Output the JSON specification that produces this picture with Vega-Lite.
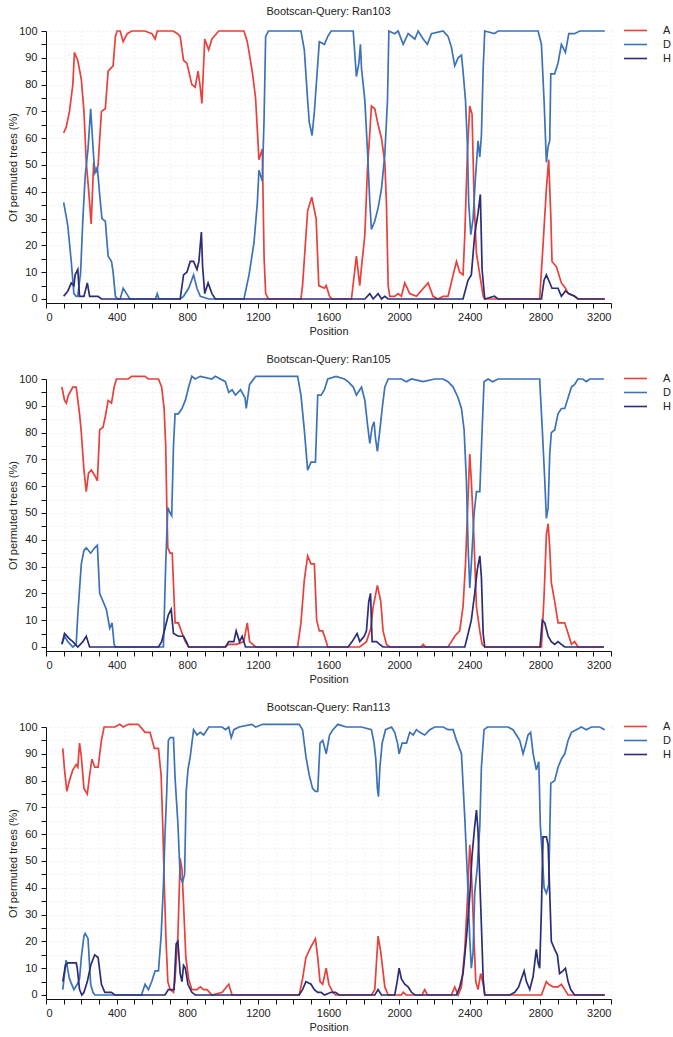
{
"$schema": "https://vega.github.io/schema/vega-lite/v6.json",
"padding": {"left": 7, "top": 6, "right": 0, "bottom": 0},
"spacing": 17,
"config": {
  "font": "Liberation Sans",
  "view": {"stroke": null},
  "axis": {"labelFont": "Liberation Sans", "labelFontSize": 11, "labelColor": "#222", "titleFont": "Liberation Sans", "titleFontSize": 11, "titleFontWeight": "normal", "titleColor": "#222", "domainColor": "#111", "tickColor": "#111", "tickSize": 5, "gridColor": "#e6e6e6", "gridDash": [1, 3], "labelOverlap": false},
  "title": {"font": "Liberation Sans", "fontSize": 11, "fontWeight": "normal", "color": "#222", "offset": 8},
  "legend": {"orient": "none", "legendX": 584, "legendY": -6, "padding": 0, "symbolType": "M-4.2,0H4.2", "symbolSize": 30, "symbolStrokeWidth": 1.6, "labelFont": "Liberation Sans", "labelFontSize": 11, "labelColor": "#222", "labelOffset": 22, "rowPadding": 2, "title": null}
},
"datasets": {
"r103": [
{"s":"A","x":100,"y":62},{"s":"A","x":114,"y":64},{"s":"A","x":133,"y":70},{"s":"A","x":152,"y":80},{"s":"A","x":161,"y":92},{"s":"A","x":180,"y":89},{"s":"A","x":200,"y":82},{"s":"A","x":215,"y":70},{"s":"A","x":228,"y":51},{"s":"A","x":241,"y":41},{"s":"A","x":256,"y":28},{"s":"A","x":270,"y":51},{"s":"A","x":282,"y":47},{"s":"A","x":295,"y":50},{"s":"A","x":314,"y":70},{"s":"A","x":336,"y":71},{"s":"A","x":352,"y":85},{"s":"A","x":380,"y":87},{"s":"A","x":393,"y":98},{"s":"A","x":403,"y":100},{"s":"A","x":420,"y":100},{"s":"A","x":437,"y":96},{"s":"A","x":460,"y":99},{"s":"A","x":485,"y":100},{"s":"A","x":520,"y":100},{"s":"A","x":560,"y":100},{"s":"A","x":600,"y":99},{"s":"A","x":618,"y":97},{"s":"A","x":630,"y":100},{"s":"A","x":680,"y":100},{"s":"A","x":720,"y":100},{"s":"A","x":745,"y":99},{"s":"A","x":760,"y":98},{"s":"A","x":779,"y":89},{"s":"A","x":798,"y":88},{"s":"A","x":826,"y":80},{"s":"A","x":845,"y":79},{"s":"A","x":861,"y":85},{"s":"A","x":872,"y":80},{"s":"A","x":883,"y":73},{"s":"A","x":899,"y":97},{"s":"A","x":921,"y":93},{"s":"A","x":940,"y":97},{"s":"A","x":978,"y":100},{"s":"A","x":1050,"y":100},{"s":"A","x":1121,"y":100},{"s":"A","x":1140,"y":96},{"s":"A","x":1168,"y":85},{"s":"A","x":1187,"y":75},{"s":"A","x":1206,"y":52},{"s":"A","x":1225,"y":56},{"s":"A","x":1235,"y":16},{"s":"A","x":1244,"y":2},{"s":"A","x":1260,"y":0},{"s":"A","x":1444,"y":0},{"s":"A","x":1453,"y":5},{"s":"A","x":1482,"y":33},{"s":"A","x":1505,"y":38},{"s":"A","x":1530,"y":30},{"s":"A","x":1545,"y":5},{"s":"A","x":1577,"y":4},{"s":"A","x":1587,"y":5},{"s":"A","x":1606,"y":1},{"s":"A","x":1620,"y":0},{"s":"A","x":1730,"y":0},{"s":"A","x":1758,"y":16},{"s":"A","x":1777,"y":5},{"s":"A","x":1787,"y":12},{"s":"A","x":1806,"y":24},{"s":"A","x":1821,"y":49},{"s":"A","x":1834,"y":62},{"s":"A","x":1843,"y":72},{"s":"A","x":1862,"y":71},{"s":"A","x":1881,"y":65},{"s":"A","x":1900,"y":60},{"s":"A","x":1919,"y":51},{"s":"A","x":1928,"y":36},{"s":"A","x":1938,"y":5},{"s":"A","x":1947,"y":1},{"s":"A","x":1975,"y":1},{"s":"A","x":1994,"y":2},{"s":"A","x":2013,"y":1},{"s":"A","x":2032,"y":6},{"s":"A","x":2060,"y":2},{"s":"A","x":2098,"y":1},{"s":"A","x":2164,"y":6},{"s":"A","x":2192,"y":1},{"s":"A","x":2220,"y":0},{"s":"A","x":2249,"y":1},{"s":"A","x":2277,"y":1},{"s":"A","x":2306,"y":9},{"s":"A","x":2325,"y":14},{"s":"A","x":2343,"y":10},{"s":"A","x":2362,"y":9},{"s":"A","x":2372,"y":24},{"s":"A","x":2387,"y":55},{"s":"A","x":2400,"y":72},{"s":"A","x":2413,"y":69},{"s":"A","x":2425,"y":36},{"s":"A","x":2438,"y":17},{"s":"A","x":2457,"y":9},{"s":"A","x":2476,"y":1},{"s":"A","x":2485,"y":0},{"s":"A","x":2796,"y":0},{"s":"A","x":2815,"y":20},{"s":"A","x":2834,"y":41},{"s":"A","x":2847,"y":52},{"s":"A","x":2859,"y":31},{"s":"A","x":2866,"y":14},{"s":"A","x":2891,"y":12},{"s":"A","x":2919,"y":6},{"s":"A","x":2942,"y":4},{"s":"A","x":2957,"y":2},{"s":"A","x":2994,"y":1},{"s":"A","x":3013,"y":0},{"s":"A","x":3165,"y":0},
{"s":"D","x":100,"y":36},{"s":"D","x":114,"y":31},{"s":"D","x":124,"y":27},{"s":"D","x":143,"y":14},{"s":"D","x":158,"y":2},{"s":"D","x":171,"y":1},{"s":"D","x":180,"y":1},{"s":"D","x":196,"y":10},{"s":"D","x":209,"y":30},{"s":"D","x":222,"y":46},{"s":"D","x":238,"y":56},{"s":"D","x":253,"y":71},{"s":"D","x":266,"y":57},{"s":"D","x":276,"y":47},{"s":"D","x":291,"y":49},{"s":"D","x":304,"y":39},{"s":"D","x":317,"y":30},{"s":"D","x":336,"y":29},{"s":"D","x":352,"y":16},{"s":"D","x":371,"y":14},{"s":"D","x":380,"y":10},{"s":"D","x":393,"y":1},{"s":"D","x":405,"y":0},{"s":"D","x":420,"y":0},{"s":"D","x":437,"y":4},{"s":"D","x":456,"y":2},{"s":"D","x":475,"y":0},{"s":"D","x":620,"y":0},{"s":"D","x":630,"y":2},{"s":"D","x":640,"y":0},{"s":"D","x":760,"y":0},{"s":"D","x":779,"y":1},{"s":"D","x":808,"y":4},{"s":"D","x":836,"y":9},{"s":"D","x":855,"y":4},{"s":"D","x":874,"y":1},{"s":"D","x":922,"y":0},{"s":"D","x":1121,"y":0},{"s":"D","x":1150,"y":9},{"s":"D","x":1178,"y":21},{"s":"D","x":1197,"y":36},{"s":"D","x":1206,"y":48},{"s":"D","x":1225,"y":44},{"s":"D","x":1235,"y":67},{"s":"D","x":1244,"y":98},{"s":"D","x":1260,"y":100},{"s":"D","x":1444,"y":100},{"s":"D","x":1463,"y":93},{"s":"D","x":1482,"y":74},{"s":"D","x":1491,"y":66},{"s":"D","x":1507,"y":61},{"s":"D","x":1520,"y":70},{"s":"D","x":1533,"y":82},{"s":"D","x":1548,"y":96},{"s":"D","x":1577,"y":95},{"s":"D","x":1596,"y":98},{"s":"D","x":1615,"y":100},{"s":"D","x":1740,"y":100},{"s":"D","x":1758,"y":83},{"s":"D","x":1772,"y":88},{"s":"D","x":1781,"y":95},{"s":"D","x":1787,"y":86},{"s":"D","x":1806,"y":74},{"s":"D","x":1821,"y":55},{"s":"D","x":1834,"y":36},{"s":"D","x":1843,"y":26},{"s":"D","x":1862,"y":29},{"s":"D","x":1881,"y":34},{"s":"D","x":1900,"y":41},{"s":"D","x":1919,"y":54},{"s":"D","x":1934,"y":74},{"s":"D","x":1942,"y":100},{"s":"D","x":1975,"y":99},{"s":"D","x":1994,"y":100},{"s":"D","x":2023,"y":95},{"s":"D","x":2051,"y":99},{"s":"D","x":2089,"y":97},{"s":"D","x":2108,"y":100},{"s":"D","x":2136,"y":97},{"s":"D","x":2160,"y":95},{"s":"D","x":2183,"y":99},{"s":"D","x":2249,"y":100},{"s":"D","x":2277,"y":98},{"s":"D","x":2296,"y":94},{"s":"D","x":2315,"y":87},{"s":"D","x":2334,"y":90},{"s":"D","x":2353,"y":91},{"s":"D","x":2362,"y":85},{"s":"D","x":2376,"y":74},{"s":"D","x":2387,"y":57},{"s":"D","x":2394,"y":36},{"s":"D","x":2406,"y":24},{"s":"D","x":2419,"y":30},{"s":"D","x":2432,"y":45},{"s":"D","x":2447,"y":59},{"s":"D","x":2457,"y":53},{"s":"D","x":2466,"y":61},{"s":"D","x":2476,"y":86},{"s":"D","x":2485,"y":100},{"s":"D","x":2540,"y":99},{"s":"D","x":2560,"y":100},{"s":"D","x":2787,"y":100},{"s":"D","x":2806,"y":95},{"s":"D","x":2821,"y":74},{"s":"D","x":2834,"y":51},{"s":"D","x":2844,"y":57},{"s":"D","x":2853,"y":59},{"s":"D","x":2859,"y":84},{"s":"D","x":2881,"y":84},{"s":"D","x":2900,"y":88},{"s":"D","x":2919,"y":95},{"s":"D","x":2942,"y":92},{"s":"D","x":2961,"y":99},{"s":"D","x":2994,"y":99},{"s":"D","x":3023,"y":100},{"s":"D","x":3165,"y":100},
{"s":"H","x":100,"y":1},{"s":"H","x":124,"y":3},{"s":"H","x":143,"y":6},{"s":"H","x":158,"y":5},{"s":"H","x":165,"y":9},{"s":"H","x":180,"y":11},{"s":"H","x":190,"y":1},{"s":"H","x":215,"y":1},{"s":"H","x":234,"y":6},{"s":"H","x":247,"y":1},{"s":"H","x":295,"y":1},{"s":"H","x":314,"y":0},{"s":"H","x":760,"y":0},{"s":"H","x":779,"y":9},{"s":"H","x":798,"y":10},{"s":"H","x":817,"y":14},{"s":"H","x":836,"y":14},{"s":"H","x":855,"y":11},{"s":"H","x":866,"y":14},{"s":"H","x":880,"y":25},{"s":"H","x":887,"y":12},{"s":"H","x":899,"y":2},{"s":"H","x":918,"y":6},{"s":"H","x":940,"y":2},{"s":"H","x":959,"y":0},{"s":"H","x":1806,"y":0},{"s":"H","x":1834,"y":2},{"s":"H","x":1853,"y":0},{"s":"H","x":1881,"y":2},{"s":"H","x":1900,"y":0},{"s":"H","x":1919,"y":1},{"s":"H","x":1938,"y":0},{"s":"H","x":2362,"y":0},{"s":"H","x":2390,"y":7},{"s":"H","x":2409,"y":9},{"s":"H","x":2428,"y":24},{"s":"H","x":2447,"y":32},{"s":"H","x":2460,"y":39},{"s":"H","x":2470,"y":11},{"s":"H","x":2485,"y":0},{"s":"H","x":2540,"y":1},{"s":"H","x":2560,"y":0},{"s":"H","x":2806,"y":0},{"s":"H","x":2821,"y":7},{"s":"H","x":2834,"y":9},{"s":"H","x":2847,"y":7},{"s":"H","x":2866,"y":4},{"s":"H","x":2881,"y":4},{"s":"H","x":2900,"y":4},{"s":"H","x":2919,"y":1},{"s":"H","x":2942,"y":3},{"s":"H","x":2961,"y":2},{"s":"H","x":2994,"y":1},{"s":"H","x":3013,"y":0},{"s":"H","x":3165,"y":0}
],
"r105": [
{"s":"A","x":90,"y":97},{"s":"A","x":105,"y":92},{"s":"A","x":115,"y":91},{"s":"A","x":127,"y":94},{"s":"A","x":152,"y":97},{"s":"A","x":171,"y":97},{"s":"A","x":190,"y":87},{"s":"A","x":200,"y":80},{"s":"A","x":215,"y":66},{"s":"A","x":228,"y":58},{"s":"A","x":241,"y":65},{"s":"A","x":257,"y":66},{"s":"A","x":276,"y":64},{"s":"A","x":291,"y":62},{"s":"A","x":304,"y":81},{"s":"A","x":323,"y":82},{"s":"A","x":336,"y":86},{"s":"A","x":352,"y":92},{"s":"A","x":371,"y":91},{"s":"A","x":386,"y":97},{"s":"A","x":399,"y":100},{"s":"A","x":466,"y":100},{"s":"A","x":485,"y":101},{"s":"A","x":560,"y":101},{"s":"A","x":580,"y":100},{"s":"A","x":637,"y":100},{"s":"A","x":655,"y":97},{"s":"A","x":669,"y":89},{"s":"A","x":678,"y":75},{"s":"A","x":685,"y":50},{"s":"A","x":690,"y":37},{"s":"A","x":703,"y":35},{"s":"A","x":715,"y":35},{"s":"A","x":731,"y":9},{"s":"A","x":750,"y":9},{"s":"A","x":766,"y":6},{"s":"A","x":789,"y":2},{"s":"A","x":808,"y":0},{"s":"A","x":1016,"y":0},{"s":"A","x":1035,"y":1},{"s":"A","x":1080,"y":1},{"s":"A","x":1120,"y":2},{"s":"A","x":1140,"y":9},{"s":"A","x":1153,"y":2},{"s":"A","x":1188,"y":0},{"s":"A","x":1425,"y":0},{"s":"A","x":1444,"y":9},{"s":"A","x":1463,"y":25},{"s":"A","x":1482,"y":34},{"s":"A","x":1501,"y":31},{"s":"A","x":1520,"y":31},{"s":"A","x":1533,"y":10},{"s":"A","x":1548,"y":6},{"s":"A","x":1567,"y":6},{"s":"A","x":1587,"y":2},{"s":"A","x":1596,"y":0},{"s":"A","x":1777,"y":0},{"s":"A","x":1815,"y":2},{"s":"A","x":1840,"y":7},{"s":"A","x":1853,"y":15},{"s":"A","x":1877,"y":23},{"s":"A","x":1896,"y":17},{"s":"A","x":1909,"y":6},{"s":"A","x":1928,"y":1},{"s":"A","x":1947,"y":0},{"s":"A","x":2125,"y":0},{"s":"A","x":2136,"y":1},{"s":"A","x":2150,"y":0},{"s":"A","x":2277,"y":0},{"s":"A","x":2296,"y":2},{"s":"A","x":2315,"y":4},{"s":"A","x":2343,"y":6},{"s":"A","x":2362,"y":15},{"s":"A","x":2376,"y":31},{"s":"A","x":2387,"y":50},{"s":"A","x":2400,"y":72},{"s":"A","x":2409,"y":62},{"s":"A","x":2423,"y":42},{"s":"A","x":2438,"y":15},{"s":"A","x":2457,"y":6},{"s":"A","x":2470,"y":1},{"s":"A","x":2485,"y":0},{"s":"A","x":2806,"y":0},{"s":"A","x":2821,"y":19},{"s":"A","x":2834,"y":42},{"s":"A","x":2844,"y":46},{"s":"A","x":2853,"y":37},{"s":"A","x":2862,"y":24},{"s":"A","x":2881,"y":17},{"s":"A","x":2900,"y":9},{"s":"A","x":2938,"y":9},{"s":"A","x":2957,"y":5},{"s":"A","x":2976,"y":1},{"s":"A","x":2994,"y":2},{"s":"A","x":3013,"y":0},{"s":"A","x":3160,"y":0},
{"s":"D","x":90,"y":1},{"s":"D","x":105,"y":4},{"s":"D","x":124,"y":2},{"s":"D","x":152,"y":0},{"s":"D","x":171,"y":1},{"s":"D","x":180,"y":12},{"s":"D","x":200,"y":31},{"s":"D","x":215,"y":36},{"s":"D","x":228,"y":37},{"s":"D","x":253,"y":35},{"s":"D","x":276,"y":37},{"s":"D","x":291,"y":38},{"s":"D","x":304,"y":20},{"s":"D","x":323,"y":17},{"s":"D","x":342,"y":14},{"s":"D","x":361,"y":7},{"s":"D","x":374,"y":9},{"s":"D","x":386,"y":1},{"s":"D","x":393,"y":0},{"s":"D","x":665,"y":0},{"s":"D","x":678,"y":31},{"s":"D","x":690,"y":52},{"s":"D","x":703,"y":50},{"s":"D","x":712,"y":49},{"s":"D","x":722,"y":75},{"s":"D","x":731,"y":87},{"s":"D","x":750,"y":87},{"s":"D","x":770,"y":89},{"s":"D","x":789,"y":92},{"s":"D","x":808,"y":97},{"s":"D","x":826,"y":101},{"s":"D","x":845,"y":100},{"s":"D","x":874,"y":101},{"s":"D","x":940,"y":100},{"s":"D","x":959,"y":101},{"s":"D","x":1016,"y":99},{"s":"D","x":1035,"y":95},{"s":"D","x":1054,"y":96},{"s":"D","x":1073,"y":94},{"s":"D","x":1102,"y":96},{"s":"D","x":1127,"y":93},{"s":"D","x":1134,"y":89},{"s":"D","x":1153,"y":98},{"s":"D","x":1188,"y":101},{"s":"D","x":1425,"y":101},{"s":"D","x":1444,"y":94},{"s":"D","x":1463,"y":81},{"s":"D","x":1482,"y":66},{"s":"D","x":1501,"y":69},{"s":"D","x":1526,"y":69},{"s":"D","x":1539,"y":94},{"s":"D","x":1558,"y":94},{"s":"D","x":1577,"y":96},{"s":"D","x":1596,"y":100},{"s":"D","x":1643,"y":101},{"s":"D","x":1690,"y":100},{"s":"D","x":1711,"y":99},{"s":"D","x":1740,"y":97},{"s":"D","x":1758,"y":94},{"s":"D","x":1787,"y":97},{"s":"D","x":1806,"y":92},{"s":"D","x":1821,"y":83},{"s":"D","x":1834,"y":76},{"s":"D","x":1847,"y":82},{"s":"D","x":1858,"y":84},{"s":"D","x":1866,"y":78},{"s":"D","x":1877,"y":73},{"s":"D","x":1891,"y":81},{"s":"D","x":1904,"y":89},{"s":"D","x":1919,"y":97},{"s":"D","x":1938,"y":100},{"s":"D","x":2013,"y":100},{"s":"D","x":2041,"y":99},{"s":"D","x":2070,"y":100},{"s":"D","x":2136,"y":99},{"s":"D","x":2202,"y":100},{"s":"D","x":2249,"y":100},{"s":"D","x":2277,"y":99},{"s":"D","x":2306,"y":97},{"s":"D","x":2334,"y":93},{"s":"D","x":2353,"y":89},{"s":"D","x":2368,"y":81},{"s":"D","x":2381,"y":62},{"s":"D","x":2391,"y":37},{"s":"D","x":2400,"y":22},{"s":"D","x":2409,"y":31},{"s":"D","x":2425,"y":50},{"s":"D","x":2438,"y":58},{"s":"D","x":2457,"y":58},{"s":"D","x":2470,"y":81},{"s":"D","x":2481,"y":99},{"s":"D","x":2504,"y":100},{"s":"D","x":2530,"y":99},{"s":"D","x":2560,"y":100},{"s":"D","x":2796,"y":100},{"s":"D","x":2811,"y":81},{"s":"D","x":2825,"y":62},{"s":"D","x":2834,"y":48},{"s":"D","x":2844,"y":52},{"s":"D","x":2853,"y":72},{"s":"D","x":2862,"y":80},{"s":"D","x":2881,"y":81},{"s":"D","x":2900,"y":87},{"s":"D","x":2919,"y":89},{"s":"D","x":2938,"y":89},{"s":"D","x":2957,"y":93},{"s":"D","x":2976,"y":97},{"s":"D","x":2994,"y":98},{"s":"D","x":3013,"y":100},{"s":"D","x":3040,"y":100},{"s":"D","x":3060,"y":99},{"s":"D","x":3080,"y":100},{"s":"D","x":3160,"y":100},
{"s":"H","x":90,"y":1},{"s":"H","x":105,"y":5},{"s":"H","x":133,"y":3},{"s":"H","x":152,"y":2},{"s":"H","x":180,"y":0},{"s":"H","x":209,"y":2},{"s":"H","x":228,"y":4},{"s":"H","x":247,"y":0},{"s":"H","x":637,"y":0},{"s":"H","x":655,"y":2},{"s":"H","x":674,"y":7},{"s":"H","x":693,"y":12},{"s":"H","x":709,"y":14},{"s":"H","x":722,"y":5},{"s":"H","x":750,"y":4},{"s":"H","x":779,"y":4},{"s":"H","x":795,"y":2},{"s":"H","x":808,"y":0},{"s":"H","x":1016,"y":0},{"s":"H","x":1035,"y":2},{"s":"H","x":1064,"y":2},{"s":"H","x":1077,"y":6},{"s":"H","x":1096,"y":2},{"s":"H","x":1111,"y":4},{"s":"H","x":1130,"y":0},{"s":"H","x":1711,"y":0},{"s":"H","x":1734,"y":2},{"s":"H","x":1762,"y":5},{"s":"H","x":1777,"y":2},{"s":"H","x":1802,"y":4},{"s":"H","x":1815,"y":6},{"s":"H","x":1828,"y":17},{"s":"H","x":1838,"y":20},{"s":"H","x":1847,"y":2},{"s":"H","x":1872,"y":2},{"s":"H","x":1890,"y":1},{"s":"H","x":1909,"y":0},{"s":"H","x":2372,"y":0},{"s":"H","x":2391,"y":5},{"s":"H","x":2409,"y":10},{"s":"H","x":2428,"y":20},{"s":"H","x":2443,"y":29},{"s":"H","x":2457,"y":34},{"s":"H","x":2466,"y":26},{"s":"H","x":2476,"y":5},{"s":"H","x":2485,"y":0},{"s":"H","x":2798,"y":0},{"s":"H","x":2811,"y":10},{"s":"H","x":2825,"y":9},{"s":"H","x":2844,"y":4},{"s":"H","x":2862,"y":2},{"s":"H","x":2881,"y":1},{"s":"H","x":2900,"y":2},{"s":"H","x":2919,"y":1},{"s":"H","x":2938,"y":0},{"s":"H","x":3160,"y":0}
],
"r113": [
{"s":"A","x":95,"y":92},{"s":"A","x":105,"y":84},{"s":"A","x":118,"y":76},{"s":"A","x":133,"y":80},{"s":"A","x":152,"y":84},{"s":"A","x":171,"y":86},{"s":"A","x":180,"y":85},{"s":"A","x":190,"y":94},{"s":"A","x":200,"y":89},{"s":"A","x":215,"y":77},{"s":"A","x":234,"y":75},{"s":"A","x":247,"y":82},{"s":"A","x":260,"y":88},{"s":"A","x":276,"y":85},{"s":"A","x":295,"y":85},{"s":"A","x":314,"y":95},{"s":"A","x":329,"y":100},{"s":"A","x":390,"y":100},{"s":"A","x":418,"y":101},{"s":"A","x":437,"y":100},{"s":"A","x":466,"y":101},{"s":"A","x":523,"y":101},{"s":"A","x":561,"y":98},{"s":"A","x":589,"y":98},{"s":"A","x":614,"y":92},{"s":"A","x":637,"y":92},{"s":"A","x":652,"y":82},{"s":"A","x":661,"y":64},{"s":"A","x":671,"y":39},{"s":"A","x":680,"y":20},{"s":"A","x":690,"y":5},{"s":"A","x":703,"y":2},{"s":"A","x":722,"y":1},{"s":"A","x":731,"y":6},{"s":"A","x":747,"y":22},{"s":"A","x":760,"y":51},{"s":"A","x":770,"y":47},{"s":"A","x":779,"y":34},{"s":"A","x":792,"y":14},{"s":"A","x":808,"y":6},{"s":"A","x":826,"y":2},{"s":"A","x":855,"y":2},{"s":"A","x":874,"y":3},{"s":"A","x":893,"y":2},{"s":"A","x":912,"y":2},{"s":"A","x":940,"y":0},{"s":"A","x":998,"y":1},{"s":"A","x":1035,"y":4},{"s":"A","x":1054,"y":0},{"s":"A","x":1434,"y":0},{"s":"A","x":1453,"y":6},{"s":"A","x":1472,"y":14},{"s":"A","x":1501,"y":18},{"s":"A","x":1526,"y":21},{"s":"A","x":1539,"y":14},{"s":"A","x":1552,"y":5},{"s":"A","x":1567,"y":4},{"s":"A","x":1587,"y":10},{"s":"A","x":1602,"y":4},{"s":"A","x":1625,"y":1},{"s":"A","x":1640,"y":0},{"s":"A","x":1843,"y":0},{"s":"A","x":1862,"y":2},{"s":"A","x":1881,"y":22},{"s":"A","x":1896,"y":16},{"s":"A","x":1919,"y":3},{"s":"A","x":1938,"y":0},{"s":"A","x":2013,"y":0},{"s":"A","x":2023,"y":1},{"s":"A","x":2040,"y":0},{"s":"A","x":2130,"y":0},{"s":"A","x":2145,"y":2},{"s":"A","x":2160,"y":0},{"s":"A","x":2296,"y":0},{"s":"A","x":2315,"y":3},{"s":"A","x":2334,"y":0},{"s":"A","x":2353,"y":3},{"s":"A","x":2372,"y":17},{"s":"A","x":2387,"y":36},{"s":"A","x":2400,"y":56},{"s":"A","x":2409,"y":46},{"s":"A","x":2423,"y":23},{"s":"A","x":2434,"y":5},{"s":"A","x":2447,"y":2},{"s":"A","x":2462,"y":8},{"s":"A","x":2476,"y":4},{"s":"A","x":2485,"y":0},{"s":"A","x":2806,"y":0},{"s":"A","x":2834,"y":5},{"s":"A","x":2847,"y":4},{"s":"A","x":2872,"y":3},{"s":"A","x":2900,"y":3},{"s":"A","x":2919,"y":4},{"s":"A","x":2938,"y":2},{"s":"A","x":2957,"y":0},{"s":"A","x":3165,"y":0},
{"s":"D","x":95,"y":2},{"s":"D","x":114,"y":13},{"s":"D","x":133,"y":6},{"s":"D","x":158,"y":2},{"s":"D","x":177,"y":4},{"s":"D","x":190,"y":6},{"s":"D","x":200,"y":14},{"s":"D","x":215,"y":22},{"s":"D","x":222,"y":23},{"s":"D","x":238,"y":21},{"s":"D","x":253,"y":4},{"s":"D","x":266,"y":1},{"s":"D","x":276,"y":0},{"s":"D","x":541,"y":0},{"s":"D","x":561,"y":4},{"s":"D","x":580,"y":2},{"s":"D","x":599,"y":5},{"s":"D","x":618,"y":9},{"s":"D","x":637,"y":9},{"s":"D","x":652,"y":22},{"s":"D","x":665,"y":41},{"s":"D","x":674,"y":60},{"s":"D","x":684,"y":76},{"s":"D","x":693,"y":95},{"s":"D","x":703,"y":96},{"s":"D","x":722,"y":96},{"s":"D","x":731,"y":81},{"s":"D","x":747,"y":64},{"s":"D","x":760,"y":44},{"s":"D","x":773,"y":42},{"s":"D","x":785,"y":45},{"s":"D","x":794,"y":76},{"s":"D","x":804,"y":84},{"s":"D","x":817,"y":89},{"s":"D","x":836,"y":99},{"s":"D","x":855,"y":97},{"s":"D","x":874,"y":98},{"s":"D","x":893,"y":97},{"s":"D","x":922,"y":100},{"s":"D","x":998,"y":100},{"s":"D","x":1016,"y":99},{"s":"D","x":1035,"y":100},{"s":"D","x":1049,"y":96},{"s":"D","x":1064,"y":99},{"s":"D","x":1093,"y":100},{"s":"D","x":1165,"y":101},{"s":"D","x":1188,"y":100},{"s":"D","x":1226,"y":101},{"s":"D","x":1434,"y":101},{"s":"D","x":1453,"y":99},{"s":"D","x":1472,"y":89},{"s":"D","x":1491,"y":82},{"s":"D","x":1510,"y":77},{"s":"D","x":1526,"y":76},{"s":"D","x":1539,"y":76},{"s":"D","x":1552,"y":94},{"s":"D","x":1567,"y":95},{"s":"D","x":1587,"y":90},{"s":"D","x":1606,"y":97},{"s":"D","x":1625,"y":99},{"s":"D","x":1653,"y":101},{"s":"D","x":1700,"y":100},{"s":"D","x":1787,"y":100},{"s":"D","x":1843,"y":99},{"s":"D","x":1858,"y":94},{"s":"D","x":1868,"y":88},{"s":"D","x":1877,"y":77},{"s":"D","x":1883,"y":74},{"s":"D","x":1891,"y":85},{"s":"D","x":1904,"y":94},{"s":"D","x":1923,"y":99},{"s":"D","x":1957,"y":100},{"s":"D","x":1975,"y":98},{"s":"D","x":1991,"y":94},{"s":"D","x":2000,"y":90},{"s":"D","x":2017,"y":94},{"s":"D","x":2042,"y":94},{"s":"D","x":2060,"y":98},{"s":"D","x":2080,"y":97},{"s":"D","x":2098,"y":99},{"s":"D","x":2117,"y":98},{"s":"D","x":2145,"y":97},{"s":"D","x":2174,"y":99},{"s":"D","x":2202,"y":100},{"s":"D","x":2249,"y":100},{"s":"D","x":2277,"y":99},{"s":"D","x":2306,"y":99},{"s":"D","x":2325,"y":95},{"s":"D","x":2353,"y":90},{"s":"D","x":2372,"y":66},{"s":"D","x":2387,"y":44},{"s":"D","x":2400,"y":21},{"s":"D","x":2409,"y":10},{"s":"D","x":2419,"y":16},{"s":"D","x":2428,"y":38},{"s":"D","x":2443,"y":48},{"s":"D","x":2457,"y":63},{"s":"D","x":2466,"y":85},{"s":"D","x":2481,"y":99},{"s":"D","x":2500,"y":100},{"s":"D","x":2617,"y":100},{"s":"D","x":2645,"y":99},{"s":"D","x":2664,"y":97},{"s":"D","x":2683,"y":95},{"s":"D","x":2702,"y":90},{"s":"D","x":2715,"y":93},{"s":"D","x":2730,"y":97},{"s":"D","x":2745,"y":98},{"s":"D","x":2759,"y":90},{"s":"D","x":2777,"y":84},{"s":"D","x":2791,"y":87},{"s":"D","x":2800,"y":63},{"s":"D","x":2810,"y":53},{"s":"D","x":2821,"y":40},{"s":"D","x":2834,"y":38},{"s":"D","x":2847,"y":41},{"s":"D","x":2859,"y":79},{"s":"D","x":2881,"y":80},{"s":"D","x":2900,"y":85},{"s":"D","x":2919,"y":88},{"s":"D","x":2938,"y":90},{"s":"D","x":2957,"y":95},{"s":"D","x":2976,"y":98},{"s":"D","x":3004,"y":99},{"s":"D","x":3032,"y":100},{"s":"D","x":3060,"y":99},{"s":"D","x":3089,"y":100},{"s":"D","x":3110,"y":100},{"s":"D","x":3136,"y":100},{"s":"D","x":3164,"y":99},
{"s":"H","x":95,"y":5},{"s":"H","x":110,"y":11},{"s":"H","x":124,"y":12},{"s":"H","x":171,"y":12},{"s":"H","x":177,"y":10},{"s":"H","x":190,"y":2},{"s":"H","x":203,"y":0},{"s":"H","x":215,"y":1},{"s":"H","x":234,"y":5},{"s":"H","x":253,"y":11},{"s":"H","x":276,"y":15},{"s":"H","x":295,"y":14},{"s":"H","x":314,"y":4},{"s":"H","x":333,"y":1},{"s":"H","x":370,"y":1},{"s":"H","x":390,"y":0},{"s":"H","x":674,"y":0},{"s":"H","x":693,"y":2},{"s":"H","x":712,"y":2},{"s":"H","x":725,"y":2},{"s":"H","x":737,"y":19},{"s":"H","x":747,"y":20},{"s":"H","x":760,"y":8},{"s":"H","x":770,"y":5},{"s":"H","x":779,"y":11},{"s":"H","x":789,"y":10},{"s":"H","x":804,"y":4},{"s":"H","x":826,"y":1},{"s":"H","x":845,"y":0},{"s":"H","x":1434,"y":0},{"s":"H","x":1453,"y":2},{"s":"H","x":1472,"y":5},{"s":"H","x":1501,"y":4},{"s":"H","x":1520,"y":2},{"s":"H","x":1539,"y":1},{"s":"H","x":1558,"y":1},{"s":"H","x":1577,"y":0},{"s":"H","x":1615,"y":1},{"s":"H","x":1640,"y":1},{"s":"H","x":1660,"y":0},{"s":"H","x":1862,"y":0},{"s":"H","x":1881,"y":2},{"s":"H","x":1900,"y":0},{"s":"H","x":1975,"y":0},{"s":"H","x":1989,"y":5},{"s":"H","x":2000,"y":10},{"s":"H","x":2013,"y":6},{"s":"H","x":2032,"y":4},{"s":"H","x":2051,"y":3},{"s":"H","x":2070,"y":1},{"s":"H","x":2089,"y":0},{"s":"H","x":2325,"y":0},{"s":"H","x":2343,"y":3},{"s":"H","x":2362,"y":8},{"s":"H","x":2381,"y":21},{"s":"H","x":2400,"y":37},{"s":"H","x":2413,"y":52},{"s":"H","x":2428,"y":63},{"s":"H","x":2438,"y":69},{"s":"H","x":2447,"y":61},{"s":"H","x":2457,"y":43},{"s":"H","x":2466,"y":26},{"s":"H","x":2476,"y":6},{"s":"H","x":2485,"y":0},{"s":"H","x":2627,"y":0},{"s":"H","x":2655,"y":1},{"s":"H","x":2677,"y":3},{"s":"H","x":2692,"y":6},{"s":"H","x":2708,"y":9},{"s":"H","x":2721,"y":5},{"s":"H","x":2740,"y":2},{"s":"H","x":2759,"y":7},{"s":"H","x":2777,"y":17},{"s":"H","x":2787,"y":12},{"s":"H","x":2796,"y":10},{"s":"H","x":2806,"y":32},{"s":"H","x":2815,"y":59},{"s":"H","x":2834,"y":59},{"s":"H","x":2844,"y":56},{"s":"H","x":2853,"y":38},{"s":"H","x":2862,"y":20},{"s":"H","x":2881,"y":17},{"s":"H","x":2896,"y":15},{"s":"H","x":2909,"y":8},{"s":"H","x":2928,"y":9},{"s":"H","x":2942,"y":10},{"s":"H","x":2957,"y":5},{"s":"H","x":2972,"y":2},{"s":"H","x":2994,"y":0},{"s":"H","x":3165,"y":0}
]
},
"vconcat": [
{
 "title": "Bootscan-Query: Ran103",
 "width": 565, "height": 272,
 "data": {"name": "r103"},
 "mark": {"type": "line", "strokeWidth": 1.7},
 "encoding": {
  "x": {"field": "x", "type": "quantitative", "scale": {"domain": [0, 3200], "nice": false}, "axis": {"title": "Position", "format": "d", "values": [0,100,200,300,400,500,600,700,800,900,1000,1100,1200,1300,1400,1500,1600,1700,1800,1900,2000,2100,2200,2300,2400,2500,2600,2700,2800,2900,3000,3100,3200], "labelExpr": "datum.value % 400 === 0 ? datum.label : ''", "labelPadding": 3, "titlePadding": 3}},
  "y": {"field": "y", "type": "quantitative", "scale": {"domain": [-1.5, 100], "nice": false, "zero": false}, "axis": {"title": "Of permuted trees (%)", "values": [0,5,10,15,20,25,30,35,40,45,50,55,60,65,70,75,80,85,90,95,100], "labelExpr": "datum.value % 10 === 0 ? datum.label : ''", "labelPadding": 4, "titlePadding": 0}},
  "color": {"field": "s", "type": "nominal", "scale": {"domain": ["A", "D", "H"], "range": ["#e8403a", "#3d72b8", "#2b2d78"]}}
 }
},
{
 "title": "Bootscan-Query: Ran105",
 "width": 565, "height": 272,
 "data": {"name": "r105"},
 "mark": {"type": "line", "strokeWidth": 1.7},
 "encoding": {
  "x": {"field": "x", "type": "quantitative", "scale": {"domain": [0, 3200], "nice": false}, "axis": {"title": "Position", "format": "d", "values": [0,100,200,300,400,500,600,700,800,900,1000,1100,1200,1300,1400,1500,1600,1700,1800,1900,2000,2100,2200,2300,2400,2500,2600,2700,2800,2900,3000,3100,3200], "labelExpr": "datum.value % 400 === 0 ? datum.label : ''", "labelPadding": 3, "titlePadding": 3}},
  "y": {"field": "y", "type": "quantitative", "scale": {"domain": [-1.5, 100], "nice": false, "zero": false}, "axis": {"title": "Of permuted trees (%)", "values": [0,5,10,15,20,25,30,35,40,45,50,55,60,65,70,75,80,85,90,95,100], "labelExpr": "datum.value % 10 === 0 ? datum.label : ''", "labelPadding": 4, "titlePadding": 0}},
  "color": {"field": "s", "type": "nominal", "scale": {"domain": ["A", "D", "H"], "range": ["#e8403a", "#3d72b8", "#2b2d78"]}}
 }
},
{
 "title": "Bootscan-Query: Ran113",
 "width": 565, "height": 272,
 "data": {"name": "r113"},
 "mark": {"type": "line", "strokeWidth": 1.7},
 "encoding": {
  "x": {"field": "x", "type": "quantitative", "scale": {"domain": [0, 3200], "nice": false}, "axis": {"title": "Position", "format": "d", "values": [0,100,200,300,400,500,600,700,800,900,1000,1100,1200,1300,1400,1500,1600,1700,1800,1900,2000,2100,2200,2300,2400,2500,2600,2700,2800,2900,3000,3100,3200], "labelExpr": "datum.value % 400 === 0 ? datum.label : ''", "labelPadding": 3, "titlePadding": 3}},
  "y": {"field": "y", "type": "quantitative", "scale": {"domain": [-1.5, 100], "nice": false, "zero": false}, "axis": {"title": "Of permuted trees (%)", "values": [0,5,10,15,20,25,30,35,40,45,50,55,60,65,70,75,80,85,90,95,100], "labelExpr": "datum.value % 10 === 0 ? datum.label : ''", "labelPadding": 4, "titlePadding": 0}},
  "color": {"field": "s", "type": "nominal", "scale": {"domain": ["A", "D", "H"], "range": ["#e8403a", "#3d72b8", "#2b2d78"]}}
 }
}
],
"resolve": {"scale": {"color": "independent"}, "legend": {"color": "independent"}}
}
